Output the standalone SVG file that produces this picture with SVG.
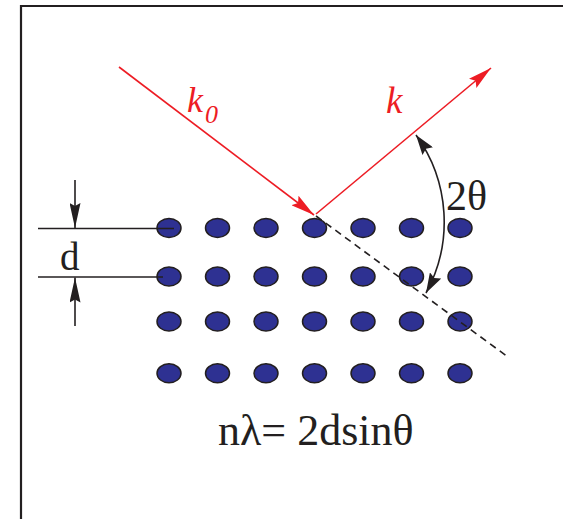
<svg xmlns="http://www.w3.org/2000/svg" width="563" height="519" viewBox="0 0 563 519">
<style>
.atom{fill:#2e3192;stroke:#231f20;stroke-width:1.5}
.ray{stroke:#ed1c24;stroke-width:1.6;fill:none}
.blk{stroke:#231f20;stroke-width:1.6;fill:none}
.lbl{font-family:"Liberation Serif","Times New Roman",serif;fill:#231f20}
.red{font-family:"Liberation Serif","Times New Roman",serif;fill:#ed1c24;font-style:italic}
</style>
<defs>
<marker id="ar" markerUnits="userSpaceOnUse" markerWidth="24" markerHeight="12" refX="24" refY="6" orient="auto"><path d="M0,0 L24,6 L0,12 L4,6 Z" fill="#ed1c24"/></marker>
<marker id="ab" markerUnits="userSpaceOnUse" markerWidth="25" markerHeight="11" refX="25" refY="5.5" orient="auto"><path d="M0,0 L25,5.5 L0,11 L3,5.5 Z" fill="#231f20"/></marker>
<marker id="aa" markerUnits="userSpaceOnUse" markerWidth="20" markerHeight="13" refX="20" refY="6.5" orient="auto-start-reverse"><path d="M0,0 L20,6.5 L0,13 L3,6.5 Z" fill="#231f20"/></marker>
</defs>
<rect width="563" height="519" fill="#fff"/>
<path id="frame" d="M21,519 V6 H563" fill="none" stroke="#231f20" stroke-width="2.2"/>
<g id="lattice">
<g id="row1"><ellipse class="atom" cx="169" cy="228" rx="12" ry="9.5"/><ellipse class="atom" cx="217.5" cy="228" rx="12" ry="9.5"/><ellipse class="atom" cx="266" cy="228" rx="12" ry="9.5"/><ellipse class="atom" cx="314.5" cy="228" rx="12" ry="9.5"/><ellipse class="atom" cx="363" cy="228" rx="12" ry="9.5"/><ellipse class="atom" cx="411.5" cy="228" rx="12" ry="9.5"/><ellipse class="atom" cx="460" cy="228" rx="12" ry="9.5"/></g>
<g id="row2"><ellipse class="atom" cx="169" cy="276.5" rx="12" ry="9.5"/><ellipse class="atom" cx="217.5" cy="276.5" rx="12" ry="9.5"/><ellipse class="atom" cx="266" cy="276.5" rx="12" ry="9.5"/><ellipse class="atom" cx="314.5" cy="276.5" rx="12" ry="9.5"/><ellipse class="atom" cx="363" cy="276.5" rx="12" ry="9.5"/><ellipse class="atom" cx="411.5" cy="276.5" rx="12" ry="9.5"/><ellipse class="atom" cx="460" cy="276.5" rx="12" ry="9.5"/></g>
<g id="row3"><ellipse class="atom" cx="169" cy="321.5" rx="12" ry="9.5"/><ellipse class="atom" cx="217.5" cy="321.5" rx="12" ry="9.5"/><ellipse class="atom" cx="266" cy="321.5" rx="12" ry="9.5"/><ellipse class="atom" cx="314.5" cy="321.5" rx="12" ry="9.5"/><ellipse class="atom" cx="363" cy="321.5" rx="12" ry="9.5"/><ellipse class="atom" cx="411.5" cy="321.5" rx="12" ry="9.5"/><ellipse class="atom" cx="460" cy="321.5" rx="12" ry="9.5"/></g>
<g id="row4"><ellipse class="atom" cx="169" cy="373.3" rx="12" ry="9.5"/><ellipse class="atom" cx="217.5" cy="373.3" rx="12" ry="9.5"/><ellipse class="atom" cx="266" cy="373.3" rx="12" ry="9.5"/><ellipse class="atom" cx="314.5" cy="373.3" rx="12" ry="9.5"/><ellipse class="atom" cx="363" cy="373.3" rx="12" ry="9.5"/><ellipse class="atom" cx="411.5" cy="373.3" rx="12" ry="9.5"/><ellipse class="atom" cx="460" cy="373.3" rx="12" ry="9.5"/></g>
</g>
<g id="connectors">
<line class="blk" x1="316" y1="216" x2="508" y2="357" stroke-dasharray="7 5" stroke-width="1.5"/>
<line class="ray" x1="119" y1="67" x2="314" y2="215" marker-end="url(#ar)"/>
<line class="ray" x1="316" y1="214" x2="491" y2="68" marker-end="url(#ar)"/>
<path class="blk" d="M416,135 A148,148 0 0 1 426,293" marker-start="url(#aa)" marker-end="url(#aa)"/>
<line class="blk" x1="38" y1="228.5" x2="174" y2="228.5"/>
<line class="blk" x1="38" y1="277" x2="163" y2="277"/>
<line class="blk" x1="75" y1="180" x2="75" y2="228" marker-end="url(#ab)"/>
<line class="blk" x1="75" y1="326" x2="75" y2="277.5" marker-end="url(#ab)"/>
</g>
<g id="labels">
<text class="red" x="187" y="112" font-size="36">k</text>
<text class="red" x="205" y="123" font-size="26">0</text>
<text class="red" x="386" y="113" font-size="37">k</text>
<text class="lbl" x="446" y="210" font-size="42">2θ</text>
<text class="lbl" x="60" y="270" font-size="39">d</text>
<text class="lbl" x="218" y="445" font-size="44">nλ= 2dsinθ</text>
</g>
</svg>
